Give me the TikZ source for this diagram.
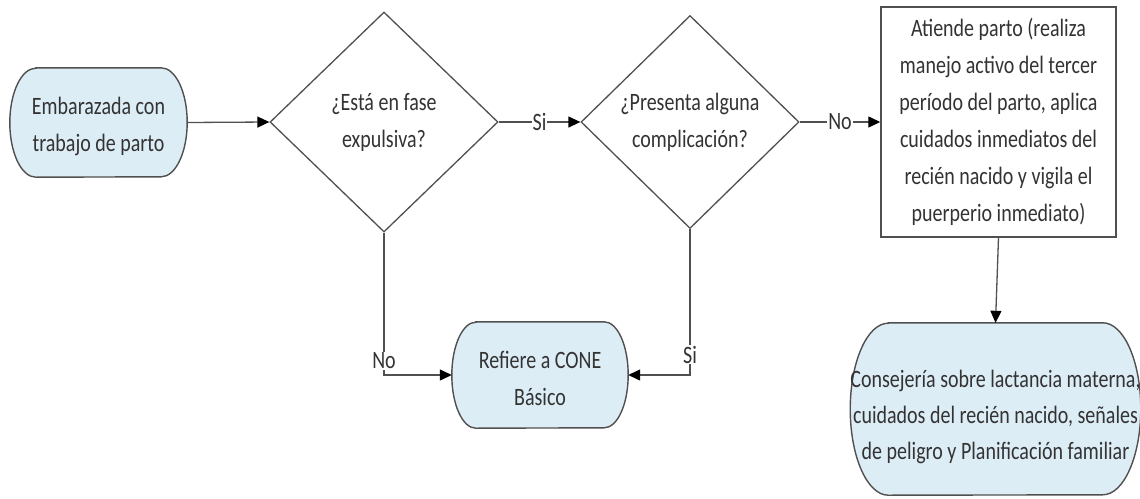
\documentclass[tikz,border=0pt]{standalone}
\usepackage{fontspec}
\setmainfont[FakeStretch=0.8]{Carlito}
\usetikzlibrary{shapes.geometric,arrows.meta,backgrounds}
\definecolor{nodefill}{HTML}{DDEDF6}
\definecolor{edgecol}{HTML}{505050}
\definecolor{txt}{HTML}{333333}
\newcommand{\stadiumoutline}[3]{%
  \begin{scope}[on background layer]
  \draw[termline] ([xshift=#2]#1.north west) -- ([xshift=-#2]#1.north east)
    arc[start angle=90,end angle=-90,x radius=#2,y radius=#3]
    -- ([xshift=#2]#1.south west)
    arc[start angle=270,end angle=90,x radius=#2,y radius=#3] -- cycle;
  \end{scope}}
\begin{document}
\begin{tikzpicture}[x=1pt,y=-1pt,
  every node/.style={font=\fontsize{25}{37}\selectfont, text=txt},
  term/.style={rectangle, align=center, inner sep=0pt},
  termline/.style={draw=edgecol, line width=1.4pt, fill=nodefill},
  decision/.style={draw=edgecol, line width=1.3pt, diamond, aspect=1, inner sep=0pt, align=center, fill=white},
  procbox/.style={draw=edgecol, line width=1.4pt, rectangle, align=center, inner sep=0pt, fill=white},
  conn/.style={draw=edgecol, line width=1.3pt, -{Triangle[length=12pt,width=11pt,color=black]}},
  lbl/.style={fill=white, inner sep=1pt}
]
\useasboundingbox (0,0) rectangle (1140,498);

\node[term, minimum width=177pt, minimum height=109pt] (start) at (98.5,122.5)
  {\rule{0pt}{26pt}Embarazada con\\trabajo de parto};
\stadiumoutline{start}{26pt}{54.5pt}

\node[decision, minimum width=228pt, minimum height=220pt] (d1) at (384,122)
  {¿Está en fase\\expulsiva?};

\node[decision, minimum width=218pt, minimum height=213pt] (d2) at (690,122)
  {¿Presenta alguna\\complicación?};

\node[procbox, minimum width=235pt, minimum height=230pt] (box) at (998.5,122)
  {Atiende parto (realiza\\manejo activo del tercer\\período del parto, aplica\\cuidados inmediatos del\\recién nacido y vigila el\\puerperio inmediato)};

\node[term, minimum width=176pt, minimum height=106pt] (ref) at (540,375)
  {\rule{0pt}{24pt}Refiere a CONE\\Básico};
\stadiumoutline{ref}{24pt}{53pt}

\node[term, minimum width=285pt, minimum height=172pt, font=\fontsize{25}{36}\selectfont] (fin) at (995.5,409)
  {\rule{0pt}{33pt}Consejería sobre lactancia materna,\\cuidados del recién nacido, señales\\de peligro y Planificación familiar};
\stadiumoutline{fin}{38pt}{86pt}

\draw[conn] (start.east) -- (d1.west);
\draw[conn] (d1.east) -- node[lbl] {Si} (d2.west);
\draw[conn] (d2.east) -- node[lbl] {No} (box.west);
\draw[conn] (d1.south) |- node[lbl, pos=0.45] {No} (ref.west);
\draw[conn] (d2.south) |- node[lbl, pos=0.43] {Si} (ref.east);
\draw[conn] (box.south) -- (fin.north);
\end{tikzpicture}
\end{document}
